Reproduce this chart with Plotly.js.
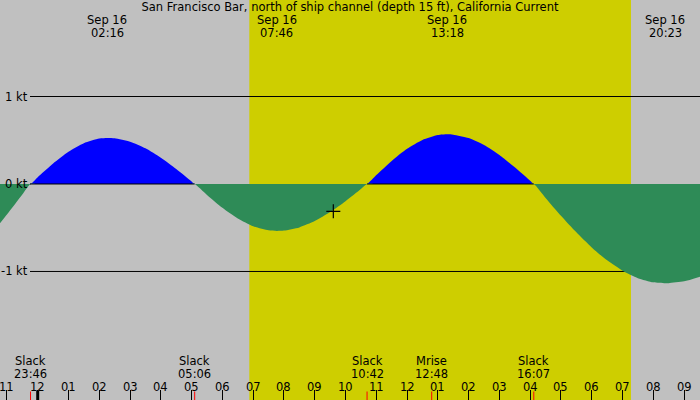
<!DOCTYPE html>
<html>
<head>
<meta charset="utf-8">
<script src="https://cdn.plot.ly/plotly-3.0.1.min.js"></script>
<style>html,body{margin:0;padding:0;background:#c0c0c0;}#chart{width:700px;height:400px;}</style>
</head>
<body>
<div id="chart"></div>
<script>
// hours relative to midnight Sep 16 (negative = Sep 15)
const times = [-1.225, -1.0, -0.5, -0.233, 0, 0.5, 1, 1.5, 2, 2.267, 2.5, 3, 3.5, 4, 4.5, 5, 5.1,
  5.5, 6, 6.5, 7, 7.5, 7.767, 8, 8.5, 9, 9.5, 10, 10.5, 10.7, 11, 11.5, 12, 12.5, 13, 13.3,
  13.5, 14, 14.5, 15, 15.5, 16, 16.117, 16.5, 17, 17.5, 18, 18.5, 19, 19.5, 20, 20.383,
  20.5, 21, 21.517];
// current in knots
const current = [-0.45, -0.35, -0.12, 0, 0.077, 0.234, 0.368, 0.466, 0.519, 0.526, 0.522, 0.483,
  0.408, 0.301, 0.172, 0.029, 0, -0.125, -0.272, -0.394, -0.483, -0.530, -0.537, -0.533, -0.496,
  -0.424, -0.321, -0.196, -0.057, 0, 0.102, 0.264, 0.402, 0.503, 0.559, 0.568, 0.564, 0.525,
  0.446, 0.331, 0.191, 0.037, 0, -0.159, -0.363, -0.553, -0.725, -0.873, -0.991, -1.076,
  -1.124, -1.135, -1.134, -1.113, -1.06];

const maxTimes = [2.267, 7.767, 13.3, 20.383];
const maxDates = ['Sep 16', 'Sep 16', 'Sep 16', 'Sep 16'];
const maxLabels = ['02:16', '07:46', '13:18', '20:23'];

const eventTimes = [-0.233, 5.1, 10.7, 12.8, 16.117];
const eventNames = ['Slack', 'Slack', 'Slack', 'Mrise', 'Slack'];
const eventLabels = ['23:46', '05:06', '10:42', '12:48', '16:07'];

const hourTicks = [-1,0,1,2,3,4,5,6,7,8,9,10,11,12,13,14,15,16,17,18,19,20,21];
const hourLabels = ['11','12','01','02','03','04','05','06','07','08','09','10','11','12','01','02','03','04','05','06','07','08','09'];

const levelValues = [1, 0, -1];
const levelLabels = ['1 kt', '0 kt', '-1 kt'];

const daylight = [6.875, 19.275];
const nowPoint = {t: 9.604, v: -0.312};
const midnight = 0;

const F = {family: 'DejaVu Sans', size: 11.5, color: '#000'};

const pos = current.map(v => v > 0 ? v : 0);
const neg = current.map(v => v < 0 ? v : 0);
const zeroSeg = current.map(v => v >= 0 ? 0 : null);

const traces = [
  {x: times, y: pos, type: 'scatter', mode: 'lines', fill: 'tozeroy', fillcolor: '#0000ff',
   line: {width: 0, color: '#0000ff', shape: 'spline', smoothing: 0.6}, hoverinfo: 'skip'},
  {x: times, y: zeroSeg, type: 'scatter', mode: 'lines', connectgaps: false,
   line: {width: 1, color: '#000'}, hoverinfo: 'skip'},
  {x: times, y: neg, type: 'scatter', mode: 'lines', fill: 'tozeroy', fillcolor: '#2e8b57',
   line: {width: 0, color: '#2e8b57', shape: 'spline', smoothing: 0.6}, hoverinfo: 'skip'},
  {x: [nowPoint.t], y: [nowPoint.v], type: 'scatter', mode: 'markers',
   marker: {symbol: 'cross-thin', size: 10, line: {width: 1.2, color: '#000'}}, hoverinfo: 'skip'}
];

const shapes = [
  {type: 'rect', xref: 'x', yref: 'paper', x0: daylight[0], x1: daylight[1], y0: 0, y1: 1,
   fillcolor: '#cece00', line: {width: 0}, layer: 'below'}
];
levelValues.forEach(v => {
  if (v !== 0) shapes.push({type: 'line', xref: 'paper', yref: 'y', x0: 30/700, x1: 1, y0: v, y1: v,
    line: {color: '#000', width: 1}, layer: 'below'});
});
shapes.push({type: 'line', xref: 'paper', yref: 'y', x0: 30/700, x1: 31/700, y0: 0, y1: 0,
  line: {color: '#000', width: 1}, layer: 'below'});
shapes.push({type: 'line', xref: 'x', yref: 'paper', x0: midnight, x1: midnight, y0: 0, y1: 9.5/400,
  line: {color: '#000', width: 3}});
eventTimes.forEach(t => shapes.push({type: 'line', xref: 'x', yref: 'paper', x0: t, x1: t,
  y0: 0, y1: 8.5/400, line: {color: '#ff0000', width: 1}}));

const annotations = [];
levelValues.forEach((v, i) => annotations.push({xref: 'paper', yref: 'y', x: 29/700, y: v,
  xanchor: 'right', yanchor: 'middle', text: levelLabels[i], showarrow: false, font: F, borderpad: 0}));
maxTimes.forEach((t, i) => {
  annotations.push({xref: 'x', yref: 'paper', x: t, y: 1 - 20/400, xanchor: 'center', yanchor: 'middle',
    text: maxDates[i], showarrow: false, font: F, borderpad: 0});
  annotations.push({xref: 'x', yref: 'paper', x: t, y: 1 - 33/400, xanchor: 'center', yanchor: 'middle',
    text: maxLabels[i], showarrow: false, font: F, borderpad: 0});
});
eventTimes.forEach((t, i) => {
  annotations.push({xref: 'x', yref: 'paper', x: t, y: (400 - 360.5)/400, xanchor: 'center', yanchor: 'middle',
    text: eventNames[i], showarrow: false, font: F, borderpad: 0});
  annotations.push({xref: 'x', yref: 'paper', x: t, y: (400 - 373.5)/400, xanchor: 'center', yanchor: 'middle',
    text: eventLabels[i], showarrow: false, font: F, borderpad: 0});
});
hourTicks.forEach((t, i) => annotations.push({xref: 'x', yref: 'paper', x: t, y: (400 - 386.5)/400,
  xanchor: 'center', yanchor: 'middle', text: hourLabels[i], showarrow: false, font: F, borderpad: 0}));

const layout = {
  width: 700, height: 400,
  margin: {l: 0, r: 0, t: 0, b: 0, pad: 0},
  paper_bgcolor: '#c0c0c0', plot_bgcolor: '#c0c0c0',
  showlegend: false,
  title: {text: 'San Francisco Bar, north of ship channel (depth 15 ft), California Current',
    x: 0.5, xanchor: 'center', y: 1 - 7/400, yanchor: 'middle', yref: 'container', font: F},
  xaxis: {range: [-1.225, 21.517], showgrid: false, zeroline: false, showline: false,
    tickvals: hourTicks, ticks: 'inside', ticklen: 10, tickwidth: 1, tickcolor: '#000',
    showticklabels: false, fixedrange: true},
  yaxis: {range: [-2.469, 2.103], showgrid: false, zeroline: false, showline: false,
    showticklabels: false, ticks: '', fixedrange: true},
  shapes: shapes,
  annotations: annotations
};

Plotly.newPlot('chart', traces, layout, {displayModeBar: false, staticPlot: true});
</script>
</body>
</html>
